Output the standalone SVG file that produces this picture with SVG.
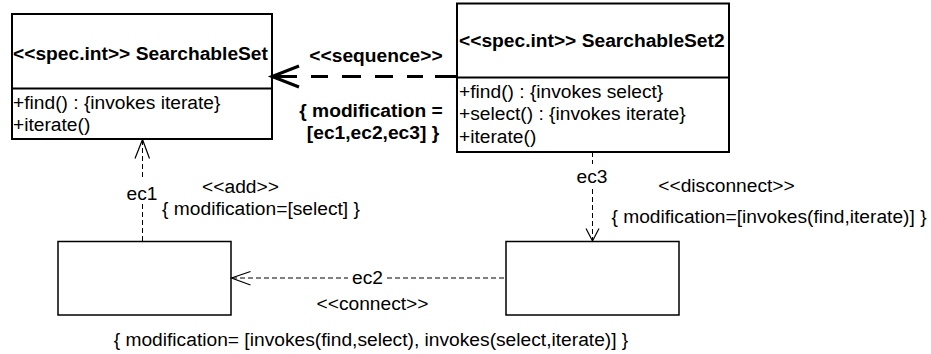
<svg xmlns="http://www.w3.org/2000/svg" width="931" height="354" viewBox="0 0 931 354">
  <style>
    text { font-family: "Liberation Sans", Arial, sans-serif; font-size: 19.2px; fill: #000; }
    .b { font-weight: bold; }
    .c { text-anchor: middle; }
    .cls { fill: #fff; stroke: #000; stroke-width: 2; }
    .sep { stroke: #000; stroke-width: 2; }
    .comp { fill: #fff; stroke: #000; stroke-width: 1.5; }
    .dep { fill: none; stroke: #000; stroke-width: 1; stroke-dasharray: 5 3; }
    .head { fill: none; stroke: #000; stroke-width: 1.2; }
    .seq { fill: none; stroke: #000; stroke-width: 3; stroke-dasharray: 25 14 17 14 19 14 18 14 16 12 22; }
    .seqhead { fill: none; stroke: #000; stroke-width: 3; }
  </style>

  <rect width="931" height="354" fill="#fff"/>

  <!-- Interface SearchableSet -->
  <g id="searchable-set">
    <rect class="cls" x="12" y="14" width="260" height="125"/>
    <line class="sep" x1="12" y1="88.5" x2="272" y2="88.5"/>
    <text class="b" x="13" y="59.5">&lt;&lt;spec.int&gt;&gt; SearchableSet</text>
    <text x="13" y="109">+find() : {invokes iterate}</text>
    <text x="13" y="131">+iterate()</text>
  </g>

  <!-- Interface SearchableSet2 -->
  <g id="searchable-set2">
    <rect class="cls" x="457" y="3.5" width="272" height="148.5"/>
    <line class="sep" x1="457" y1="77.5" x2="729" y2="77.5"/>
    <text class="b" x="459" y="47">&lt;&lt;spec.int&gt;&gt; SearchableSet2</text>
    <text x="459" y="97.5">+find() : {invokes select}</text>
    <text x="459" y="120">+select() : {invokes iterate}</text>
    <text x="459" y="142.5">+iterate()</text>
  </g>

  <!-- Intermediate configurations -->
  <g id="config-a">
    <rect class="comp" x="58" y="241.5" width="173" height="73.5"/>
  </g>
  <g id="config-b">
    <rect class="comp" x="506" y="241.5" width="173" height="73.5"/>
  </g>

  <g id="connectors">
    <!-- sequence: SearchableSet2 -> SearchableSet -->
    <line class="seq" x1="272" y1="76.5" x2="457" y2="76.5"/>
    <polyline class="seqhead" points="299,66 272,76.5 299,87"/>
    <text class="b c" x="376" y="61.5">&lt;&lt;sequence&gt;&gt;</text>
    <text class="b c" x="371" y="117">{ modification =</text>
    <text class="b c" x="373" y="139">[ec1,ec2,ec3] }</text>

    <!-- ec1: add -->
    <line class="dep" x1="142.5" y1="140" x2="142.5" y2="180"/>
    <line class="dep" x1="142.5" y1="204" x2="142.5" y2="241"/>
    <polyline class="head" points="135,158.5 142.5,139.5 149.5,158.5"/>
    <text class="c" x="142" y="200">ec1</text>
    <text class="c" x="240.5" y="193">&lt;&lt;add&gt;&gt;</text>
    <text class="c" x="261" y="215">{ modification=[select] }</text>

    <!-- ec2: connect -->
    <line class="dep" x1="232" y1="278" x2="348" y2="278"/>
    <line class="dep" x1="387" y1="278" x2="506" y2="278"/>
    <polyline class="head" points="250.5,271.5 231.5,278 250.5,285"/>
    <text class="c" x="367.5" y="283.5">ec2</text>
    <text class="c" x="372.5" y="310">&lt;&lt;connect&gt;&gt;</text>
    <text class="c" x="371" y="346">{ modification= [invokes(find,select), invokes(select,iterate)] }</text>

    <!-- ec3: disconnect -->
    <line class="dep" x1="592.5" y1="152" x2="592.5" y2="164"/>
    <line class="dep" x1="592.5" y1="189" x2="592.5" y2="240"/>
    <polyline class="head" points="586,228.5 592.5,241 599,228.5"/>
    <text class="c" x="592" y="183">ec3</text>
    <text class="c" x="726.5" y="191.5">&lt;&lt;disconnect&gt;&gt;</text>
    <text class="c" x="769" y="223">{ modification=[invokes(find,iterate)] }</text>
  </g>
</svg>
